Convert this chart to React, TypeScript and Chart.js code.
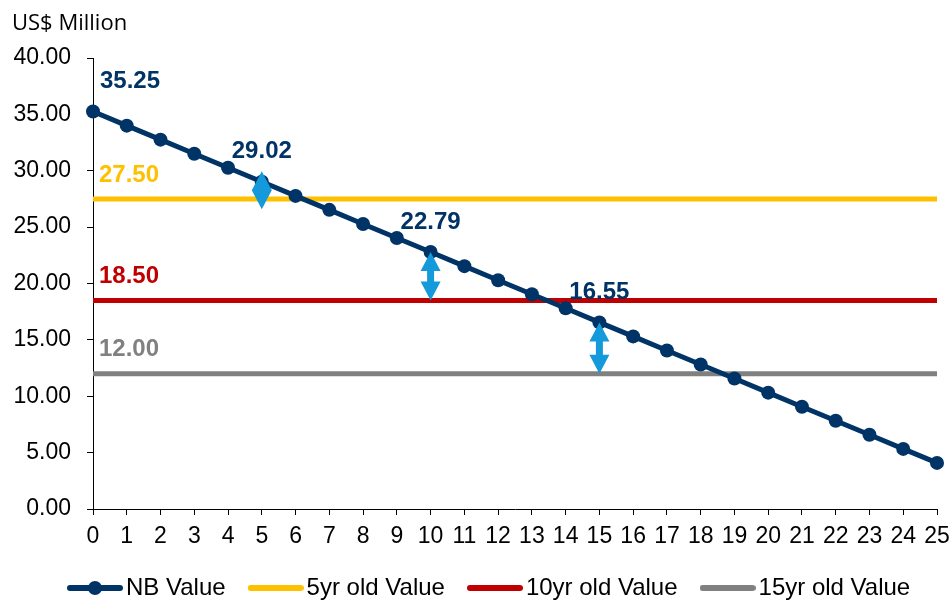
import { useEffect, useRef } from "react";
import { Chart, registerables } from "chart.js";

Chart.register(...registerables);

const years = ["0","1","2","3","4","5","6","7","8","9","10","11","12","13","14","15","16","17","18","19","20","21","22","23","24","25"];
const nbValue = [35.25, 34.0, 32.76, 31.51, 30.27, 29.02, 27.77, 26.53, 25.28, 24.03, 22.79, 21.54, 20.29, 19.05, 17.8, 16.55, 15.31, 14.06, 12.81, 11.57, 10.32, 9.07, 7.83, 6.58, 5.33, 4.09];
const fiveYrValue = 27.5;
const tenYrValue = 18.5;
const fifteenYrValue = 12.0;
const labelledIndices = [0, 5, 10, 15];
const arrowIndices = [5, 10, 15];
const arrowTargets = [fiveYrValue, tenYrValue, fifteenYrValue];
const seriesNames = ["NB Value", "5yr old Value", "10yr old Value", "15yr old Value"];
const yTicksMin = 0;
const yTicksMax = 40;
const yStep = 5;

const NAVY = "#003366";
const YELLOW = "#FFC000";
const RED = "#C00000";
const GRAY = "#808080";
const ARROW = "#1499DA";
const FONT = "'Liberation Sans', Arial, sans-serif";
const LEGEND_START = 45;

function makeIcon(color: string, withDot: boolean): HTMLCanvasElement {
  const c = document.createElement("canvas");
  c.width = 56;
  c.height = 16;
  const ctx = c.getContext("2d")!;
  ctx.strokeStyle = color;
  ctx.lineWidth = 6;
  ctx.lineCap = "round";
  ctx.beginPath();
  ctx.moveTo(3, 8);
  ctx.lineTo(53, 8);
  ctx.stroke();
  if (withDot) {
    ctx.fillStyle = color;
    ctx.beginPath();
    ctx.arc(28, 8, 7, 0, Math.PI * 2);
    ctx.fill();
  }
  return c;
}

function drawDoubleArrow(ctx: CanvasRenderingContext2D, x: number, y1: number, y2: number) {
  const head = 19;
  const halfW = 10;
  const shaft = 3.5;
  const mid = (y1 + y2) / 2;
  const span = Math.max(Math.abs(y2 - y1), 2 * head);
  const t = mid - span / 2;
  const b = mid + span / 2;
  ctx.save();
  ctx.fillStyle = ARROW;
  ctx.beginPath();
  ctx.moveTo(x, t);
  ctx.lineTo(x + halfW, t + head);
  ctx.lineTo(x + shaft, t + head);
  ctx.lineTo(x + shaft, b - head);
  ctx.lineTo(x + halfW, b - head);
  ctx.lineTo(x, b);
  ctx.lineTo(x - halfW, b - head);
  ctx.lineTo(x - shaft, b - head);
  ctx.lineTo(x - shaft, t + head);
  ctx.lineTo(x - halfW, t + head);
  ctx.closePath();
  ctx.fill();
  ctx.restore();
}

const annotationPlugin = {
  id: "annotations",
  afterLayout(chart: any) {
    if (chart.legend) {
      chart.legend.left += LEGEND_START;
      chart.legend.right += LEGEND_START;
    }
  },
  afterDatasetsDraw(chart: any) {
    const ctx: CanvasRenderingContext2D = chart.ctx;
    const xs = chart.scales.x;
    const ys = chart.scales.y;
    const area = chart.chartArea;
    arrowIndices.forEach((idx, i) => {
      const x = xs.getPixelForValue(idx);
      drawDoubleArrow(ctx, x, ys.getPixelForValue(nbValue[idx]), ys.getPixelForValue(arrowTargets[i]));
    });
    ctx.save();
    ctx.font = `bold 24px ${FONT}`;
    ctx.textBaseline = "middle";
    ctx.fillStyle = NAVY;
    labelledIndices.forEach((idx, i) => {
      const x = xs.getPixelForValue(idx);
      const y = ys.getPixelForValue(nbValue[idx]);
      ctx.textAlign = i === 0 ? "left" : "center";
      ctx.fillText(nbValue[idx].toFixed(2), i === 0 ? x + 7 : x, y - 30);
    });
    const refs: [number, string][] = [[fiveYrValue, YELLOW], [tenYrValue, RED], [fifteenYrValue, GRAY]];
    ctx.textAlign = "left";
    refs.forEach(([v, col]) => {
      ctx.fillStyle = col;
      ctx.fillText(v.toFixed(2), area.left + 6, ys.getPixelForValue(v) - 24);
    });
    ctx.restore();
  },
  afterDraw(chart: any) {
    const ctx: CanvasRenderingContext2D = chart.ctx;
    ctx.save();
    ctx.font = "22px 'Open Sans', 'DejaVu Sans', sans-serif";
    ctx.fillStyle = "#000";
    ctx.textAlign = "left";
    ctx.textBaseline = "alphabetic";
    ctx.fillText("US$ Million", 12, 30);
    ctx.restore();
  },
};

export default function App() {
  const canvasRef = useRef<HTMLCanvasElement | null>(null);

  useEffect(() => {
    document.body.style.margin = "0";
    const canvas = canvasRef.current;
    if (!canvas) return;
    const colors = [NAVY, YELLOW, RED, GRAY];
    const icons = colors.map((c, i) => makeIcon(c, i === 0));
    const chart = new Chart(canvas, {
      type: "line",
      data: {
        labels: years,
        datasets: [
          {
            label: seriesNames[0],
            data: nbValue,
            borderColor: NAVY,
            backgroundColor: NAVY,
            borderWidth: 5,
            pointRadius: 7,
            pointBackgroundColor: NAVY,
            pointBorderWidth: 0,
            tension: 0,
          },
          {
            label: seriesNames[1],
            data: years.map(() => fiveYrValue),
            borderColor: YELLOW,
            backgroundColor: YELLOW,
            borderWidth: 5,
            pointRadius: 0,
          },
          {
            label: seriesNames[2],
            data: years.map(() => tenYrValue),
            borderColor: RED,
            backgroundColor: RED,
            borderWidth: 5,
            pointRadius: 0,
          },
          {
            label: seriesNames[3],
            data: years.map(() => fifteenYrValue),
            borderColor: GRAY,
            backgroundColor: GRAY,
            borderWidth: 5,
            pointRadius: 0,
          },
        ],
      },
      options: {
        animation: false,
        responsive: false,
        events: [],
        layout: { padding: { left: 0, right: 15, top: 58, bottom: -10 } },
        plugins: {
          tooltip: { enabled: false },
          legend: {
            position: "bottom",
            align: "start",
            labels: {
              usePointStyle: true,
              pointStyleWidth: 38,
              boxHeight: 16,
              padding: 31,
              color: "#000",
              font: { family: FONT, size: 24 },
              generateLabels: (ch: any) =>
                ch.data.datasets.map((ds: any, i: number) => ({
                  text: ds.label,
                  pointStyle: icons[i],
                  fillStyle: ds.borderColor,
                  strokeStyle: ds.borderColor,
                  lineWidth: 0,
                  hidden: false,
                  datasetIndex: i,
                  fontColor: "#000",
                })),
            },
          },
        },
        scales: {
          x: {
            type: "category",
            offset: false,
            grid: { drawOnChartArea: false, drawTicks: true, tickLength: 6, color: "#000" },
            border: { display: true, color: "#000", width: 1 },
            ticks: { color: "#000", font: { family: FONT, size: 23 }, padding: 8, maxRotation: 0, autoSkip: false },
            afterFit: (s: any) => {
              s.height = 36;
              s.paddingLeft = 0;
              s.paddingRight = 0;
            },
          },
          y: {
            min: yTicksMin,
            max: yTicksMax,
            grid: { drawOnChartArea: false, drawTicks: true, tickLength: 6, color: "#000" },
            border: { display: true, color: "#000", width: 1 },
            ticks: {
              stepSize: yStep,
              color: "#000",
              font: { family: FONT, size: 23 },
              padding: 16,
              callback: (v: any) => Number(v).toFixed(2),
            },
            afterFit: (s: any) => {
              s.width = 93;
            },
          },
        },
      },
      plugins: [annotationPlugin],
    });
    return () => chart.destroy();
  }, []);

  return (
    <div style={{ width: 952, height: 600 }}>
      <canvas ref={canvasRef} width={952} height={600} style={{ display: "block" }} />
    </div>
  );
}
